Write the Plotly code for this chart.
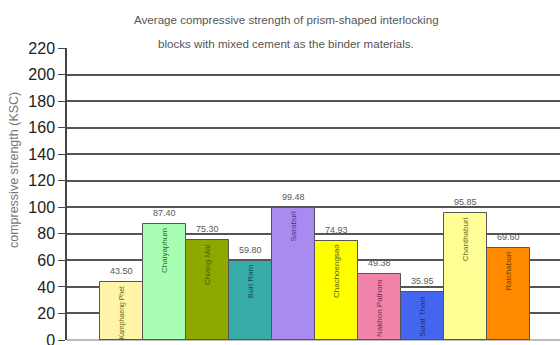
import plotly.graph_objects as go

provinces = ["Kamphaeng Phet", "Chaiyaphum", "Chiang Mai", "Buri Ram", "Saraburi",
             "Chachoengsao", "Nakhon Pathom", "Surat Thani", "Chanthaburi", "Ratchaburi"]
strength = [43.50, 87.40, 75.30, 59.80, 99.48, 74.93, 49.38, 35.95, 95.85, 69.60]
value_labels = ["43.50", "87.40", "75.30", "59.80", "99.48", "74.93", "49.38", "35.95", "95.85", "69.60"]
bar_colors = ["#FFF4A8", "#A8FFB4", "#8EA800", "#36ABA8", "#A98AF0",
              "#FFFF00", "#F283AA", "#4466EE", "#FFFF96", "#FF8A00"]
text_colors = ["#6B6420", "#2E6B36", "#4E5C10", "#15504E", "#4E3A80",
               "#5C5C10", "#7A2E48", "#1E2E7A", "#6B6A20", "#6E3A05"]
label_font_sizes = [6.9, 8, 8, 8, 8, 8, 8, 7.8, 8, 8]
y_ticks = list(range(0, 221, 20))

positions = list(range(1, len(provinces) + 1))
FONT = "Liberation Sans, Arial"

fig = go.Figure()
fig.add_trace(go.Bar(
    x=positions, y=strength, width=1.0,
    marker=dict(color=bar_colors, line=dict(color="#555555", width=1)),
    cliponaxis=False, showlegend=False, hoverinfo="skip",
))

annotations = []
for p, v, lab, name, tc, fs in zip(positions, strength, value_labels, provinces, text_colors, label_font_sizes):
    annotations.append(dict(x=p, y=v, xref="x", yref="y", text=lab, showarrow=False,
                            yanchor="bottom", yshift=4,
                            font=dict(family=FONT, size=9, color="#5a5a5a")))
    annotations.append(dict(x=p, y=v, xref="x", yref="y", text=name, showarrow=False,
                            textangle=-90, yanchor="top", xanchor="center", yshift=-2,
                            font=dict(family=FONT, size=fs, color=tc)))

annotations.append(dict(x=0.445, y=1.0, xref="paper", yref="paper", yanchor="top", yshift=37,
                        text="Average compressive strength of prism-shaped interlocking",
                        showarrow=False, font=dict(family=FONT, size=11.6, color="#555555")))
annotations.append(dict(x=0.445, y=1.0, xref="paper", yref="paper", yanchor="top", yshift=13,
                        text="blocks with mixed cement as the binder materials.",
                        showarrow=False, font=dict(family=FONT, size=11.6, color="#555555")))
annotations.append(dict(x=0, y=0.582, xref="paper", yref="paper", xshift=-53,
                        xanchor="center", yanchor="middle", textangle=-90,
                        text="compressive strength (KSC)", showarrow=False,
                        font=dict(family=FONT, size=12.5, color="#777777")))

fig.update_layout(
    width=560, height=345,
    margin=dict(l=67, r=0, t=48, b=5),
    paper_bgcolor="white", plot_bgcolor="white",
    bargap=0,
    annotations=annotations,
    xaxis=dict(range=[-0.27, 11.2], showticklabels=False, showgrid=False, zeroline=False,
               showline=False, ticks=""),
    yaxis=dict(range=[0, 220], tickvals=y_ticks, ticks="outside", ticklen=7, tickcolor="#444444",
               tickfont=dict(family=FONT, size=16, color="#222222"),
               ticklabeloverflow="allow",
               showgrid=True, gridcolor="#555555", gridwidth=1.5,
               showline=True, linecolor="#444444", linewidth=1.5,
               zeroline=True, zerolinecolor="#bbbbbb", zerolinewidth=1.5,
               automargin=False),
)

fig.write_html("out.html")
